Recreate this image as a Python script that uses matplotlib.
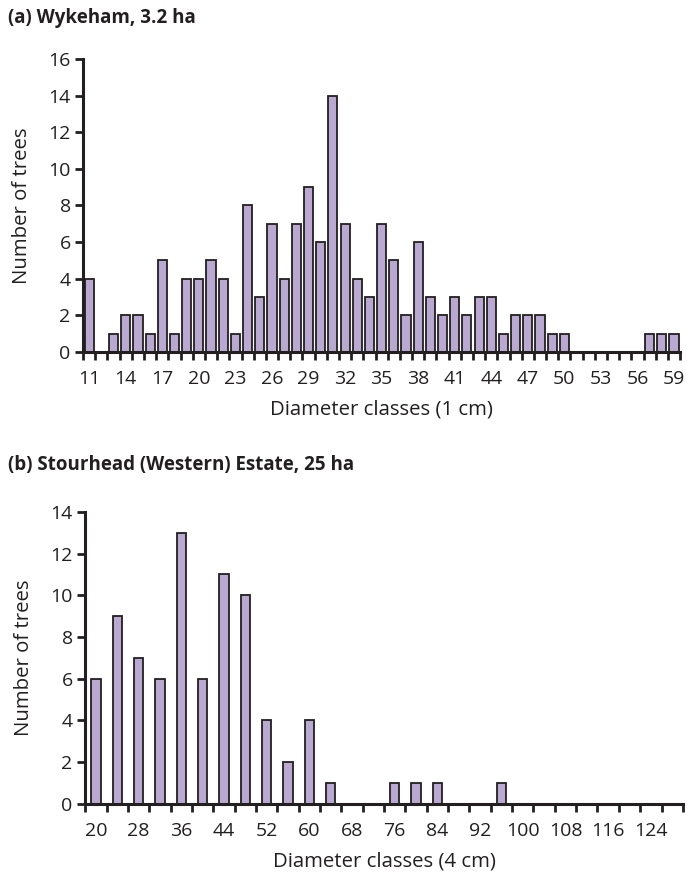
import numpy as np
import matplotlib
matplotlib.use("Agg")
import matplotlib.pyplot as plt

plt.rcParams['font.family'] = ['Open Sans', 'DejaVu Sans']

# --- Data: (a) Wykeham, 1 cm classes ---
classes_a = list(range(11, 60))
counts_a = [4, 0, 1, 2, 2, 1, 5, 1, 4, 4,
            5, 4, 1, 8, 3, 7, 4, 7, 9, 6,
            14, 7, 4, 3, 7, 5, 2, 6, 3, 2,
            3, 2, 3, 3, 1, 2, 2, 2, 1, 1,
            0, 0, 0, 0, 0, 0, 1, 1, 1]

# --- Data: (b) Stourhead, 4 cm classes ---
classes_b = list(range(20, 129, 4))
counts_b = [6, 9, 7, 6, 13, 6, 11, 10, 4, 2,
            4, 1, 0, 0, 1, 1, 1, 0, 0, 1,
            0, 0, 0, 0, 0, 0, 0, 0]

BAR = "#b9a9d0"
EDGE = "#231f20"
TXT = "#231f20"


def draw(ax, classes, counts, width, ymax, label_every, xlabel):
    n = len(classes)
    x = np.arange(n)
    ax.bar(x, counts, width=width, color=BAR, edgecolor=EDGE, linewidth=1.3, zorder=2)
    ax.set_xlim(-0.5, n - 0.5)
    ax.set_ylim(0, ymax)
    ax.set_yticks(range(0, ymax + 1, 2))
    # labels at class centres, tick marks at class boundaries
    ax.set_xticks(x[::label_every])
    ax.set_xticklabels([str(c) for c in classes[::label_every]])
    ax.set_xticks(np.arange(n + 1) - 0.5, minor=True)
    ax.tick_params(axis='x', which='major', length=0, pad=13, labelsize=14, colors=TXT)
    ax.tick_params(axis='x', which='minor', length=6, width=2, direction='out', color=EDGE)
    ax.tick_params(axis='y', length=6, width=2, direction='out', labelsize=14, colors=TXT, pad=3)
    for s in ['top', 'right']:
        ax.spines[s].set_visible(False)
    for s in ['left', 'bottom']:
        ax.spines[s].set_linewidth(2.2)
        ax.spines[s].set_color(EDGE)
    ax.set_ylabel("Number of trees", fontsize=14.7, color=TXT, labelpad=12)
    ax.set_xlabel(xlabel, fontsize=14.7, color=TXT, labelpad=8)


fig = plt.figure(figsize=(6.87, 8.80), dpi=100)
ax1 = fig.add_axes([0.121, 0.600, 0.869, 0.333])
ax2 = fig.add_axes([0.124, 0.0864, 0.870, 0.332])

draw(ax1, classes_a, counts_a, 0.75, 16, 3, "Diameter classes (1 cm)")
draw(ax2, classes_b, counts_b, 0.44, 14, 2, "Diameter classes (4 cm)")

fig.text(0.012, 0.979, "(a) Wykeham, 3.2 ha", fontsize=13.5, fontweight='bold',
         color=TXT, va='center', ha='left')
fig.text(0.012, 0.472, "(b) Stourhead (Western) Estate, 25 ha", fontsize=13.5,
         fontweight='bold', color=TXT, va='center', ha='left')

fig.savefig("out.png", dpi=100)
